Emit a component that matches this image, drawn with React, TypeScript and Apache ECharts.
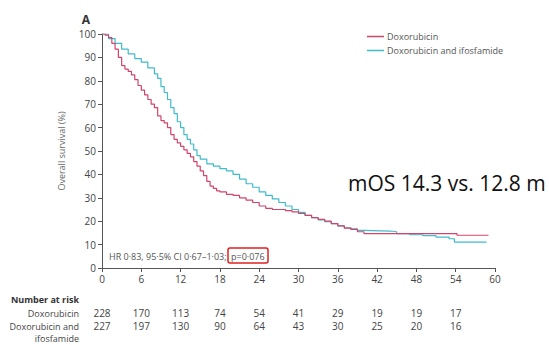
import React, { useEffect, useRef } from "react";
import * as echarts from "echarts";

const seriesNames = ["Doxorubicin", "Doxorubicin and ifosfamide"];
const seriesColors = ["#d2456a", "#3fbccb"];

const doxorubicin: [number, number][] = [
  [0, 100], [0.5, 99.5], [1, 98.5], [1.5, 96], [2, 93.5], [2.5, 90], [3, 86.5], [3.5, 85],
  [4, 84], [4.5, 82.5], [5, 80.5], [5.5, 78], [6, 76], [6.5, 74], [7, 72], [7.5, 70],
  [8, 68.5], [8.5, 65], [9, 63], [9.5, 62], [10, 60], [10.5, 57], [11, 55], [11.5, 53.5],
  [12, 52], [12.5, 50.5], [13, 49], [13.5, 47.5], [14, 45.5], [14.5, 43.5], [15, 41.5],
  [15.5, 39.5], [16, 37], [16.5, 35], [17, 34], [17.5, 33], [18, 32.5], [19, 31.5], [20, 31],
  [21, 30], [22, 29], [23, 28], [24, 26.5], [25, 25.5], [26, 25], [27, 25], [28, 24.5],
  [29, 24], [30, 23.3], [31, 22.5], [32, 21.5], [33, 20.8], [34, 20], [35, 19], [36, 18],
  [37, 17], [38, 16.5], [39, 15.5], [40, 14.7], [54, 14.7], [54.2, 14], [59, 14],
];

const doxIfos: [number, number][] = [
  [0, 100], [1, 98], [2, 96], [3, 93.5], [4, 91.5], [5, 89.5], [6, 88], [7, 85.5], [8, 83],
  [8.5, 81], [9, 77.5], [9.5, 75], [10, 72], [10.5, 68.5], [11, 66], [11.5, 62.5], [12, 60],
  [12.5, 57], [13, 55], [13.5, 53], [14, 50.5], [14.5, 48], [15, 46.5], [16, 44.5], [17, 43.5],
  [18, 42.5], [19, 41.5], [20, 40], [21, 38], [22, 36], [23, 34.5], [24, 32.5], [25, 31],
  [26, 29.5], [27, 28], [28, 26.5], [29, 25], [30, 23.8], [31, 22.5], [32, 21.5], [33, 20.6],
  [34, 19.8], [35, 19], [36, 18], [37, 17.2], [38, 16.7], [39, 16.1], [40, 15.8], [44, 15.5],
  [45, 14.7], [47, 14.2], [49, 13.8], [51, 13.2], [53, 12.5], [53.8, 11.1], [58.7, 11.1],
];

const riskMonths = [0, 6, 12, 18, 24, 30, 36, 42, 48, 54];
const riskDox = [228, 170, 113, 74, 54, 41, 29, 19, 19, 17];
const riskDoxIfos = [227, 197, 130, 90, 64, 43, 30, 25, 20, 16];

const hrText = "HR 0·83, 95·5% CI 0·67–1·03; ";
const pText = "p=0·076";
const mosText = "mOS 14.3 vs. 12.8 m";
const panelLabel = "A";
const yAxisName = "Overall survival (%)";
const riskTitle = "Number at risk";
const riskRowLabels = ["Doxorubicin", "Doxorubicin and", "ifosfamide"];

const FONT = "'Open Sans', 'DejaVu Sans', sans-serif";
const GREY = "#555";

export default function App() {
  const ref = useRef<HTMLDivElement>(null);
  useEffect(() => {
    if (!ref.current) return;
    const chart = echarts.init(ref.current, undefined, { renderer: "svg" });
    const option: any = {
      animation: false,
      grid: { left: 102, top: 34, width: 393, height: 234, containLabel: false },
      legend: {
        left: 362,
        top: 27,
        orient: "vertical",
        itemWidth: 17,
        itemHeight: 1.5,
        itemGap: 5,
        icon: "rect",
        textStyle: { fontFamily: FONT, fontSize: 9, color: GREY, padding: [0, 0, 0, -2] },
        data: seriesNames,
      },
      xAxis: {
        type: "value",
        min: 0,
        max: 60,
        interval: 6,
        axisLine: { lineStyle: { color: GREY, width: 1 } },
        axisTick: { show: true, length: 4, lineStyle: { color: GREY } },
        axisLabel: { fontFamily: FONT, fontSize: 10, color: "#444", margin: 6 },
        splitLine: { show: false },
      },
      yAxis: {
        type: "value",
        min: 0,
        max: 100,
        interval: 10,
        name: yAxisName,
        nameLocation: "middle",
        nameGap: 36,
        nameTextStyle: { fontFamily: FONT, fontSize: 9, color: "#666" },
        axisLine: { show: true, lineStyle: { color: GREY, width: 1 } },
        axisTick: { show: true, length: 4, lineStyle: { color: GREY } },
        axisLabel: { fontFamily: FONT, fontSize: 10, color: "#444", margin: 6 },
        splitLine: { show: false },
      },
      series: [
        {
          name: seriesNames[0],
          type: "line",
          step: "end",
          symbol: "none",
          data: doxorubicin,
          itemStyle: { color: seriesColors[0] },
          lineStyle: { color: seriesColors[0], width: 1.2 },
          z: 3,
        },
        {
          name: seriesNames[1],
          type: "line",
          step: "end",
          symbol: "none",
          data: doxIfos,
          itemStyle: { color: seriesColors[1] },
          lineStyle: { color: seriesColors[1], width: 1.2 },
          z: 2,
        },
      ],
    };
    chart.setOption(option);

    const xs = riskMonths.map((m) => chart.convertToPixel({ xAxisIndex: 0 }, m) as number);
    const graphics: any[] = [];
    const labelRight = 79;
    const rows = [299, 313, 326, 338];
    graphics.push({
      type: "text", x: 86, y: 19,
      style: { text: panelLabel, font: `bold 12px ${FONT}`, fill: "#333", align: "center", verticalAlign: "middle" },
    });
    graphics.push({
      type: "text", x: labelRight, y: rows[0],
      style: { text: riskTitle, font: `bold 9px ${FONT}`, fill: "#333", align: "right", verticalAlign: "middle" },
    });
    riskRowLabels.forEach((t, i) => {
      graphics.push({
        type: "text", x: labelRight, y: rows[i + 1],
        style: { text: t, font: `9px ${FONT}`, fill: "#444", align: "right", verticalAlign: "middle" },
      });
    });
    xs.forEach((x, i) => {
      graphics.push({
        type: "text", x, y: rows[1],
        style: { text: String(riskDox[i]), font: `10px ${FONT}`, fill: "#444", align: "center", verticalAlign: "middle" },
      });
      graphics.push({
        type: "text", x, y: rows[2],
        style: { text: String(riskDoxIfos[i]), font: `10px ${FONT}`, fill: "#444", align: "center", verticalAlign: "middle" },
      });
    });
    const hrY = 256;
    graphics.push({
      type: "text", x: 109, y: hrY,
      style: { text: hrText, font: `9px ${FONT}`, fill: "#555", align: "left", verticalAlign: "middle" },
    });
    graphics.push({
      type: "text", x: 231, y: hrY,
      style: { text: pText, font: `9px ${FONT}`, fill: "#555", align: "left", verticalAlign: "middle" },
    });
    graphics.push({
      type: "rect", shape: { x: 228, y: 248, width: 40, height: 15, r: 2 },
      style: { fill: "none", stroke: "#e0201e", lineWidth: 1.5 },
    });
    graphics.push({
      type: "text", x: 348, y: 183,
      style: { text: mosText, font: `21px 'Open Sans', 'Liberation Sans', sans-serif`, fill: "#111", align: "left", verticalAlign: "middle" },
    });
    chart.setOption({ graphic: graphics });

    return () => chart.dispose();
  }, []);
  return (
    <div
      ref={ref}
      style={{ position: "fixed", left: 0, top: 0, width: 549, height: 345, background: "#fff" }}
    />
  );
}
